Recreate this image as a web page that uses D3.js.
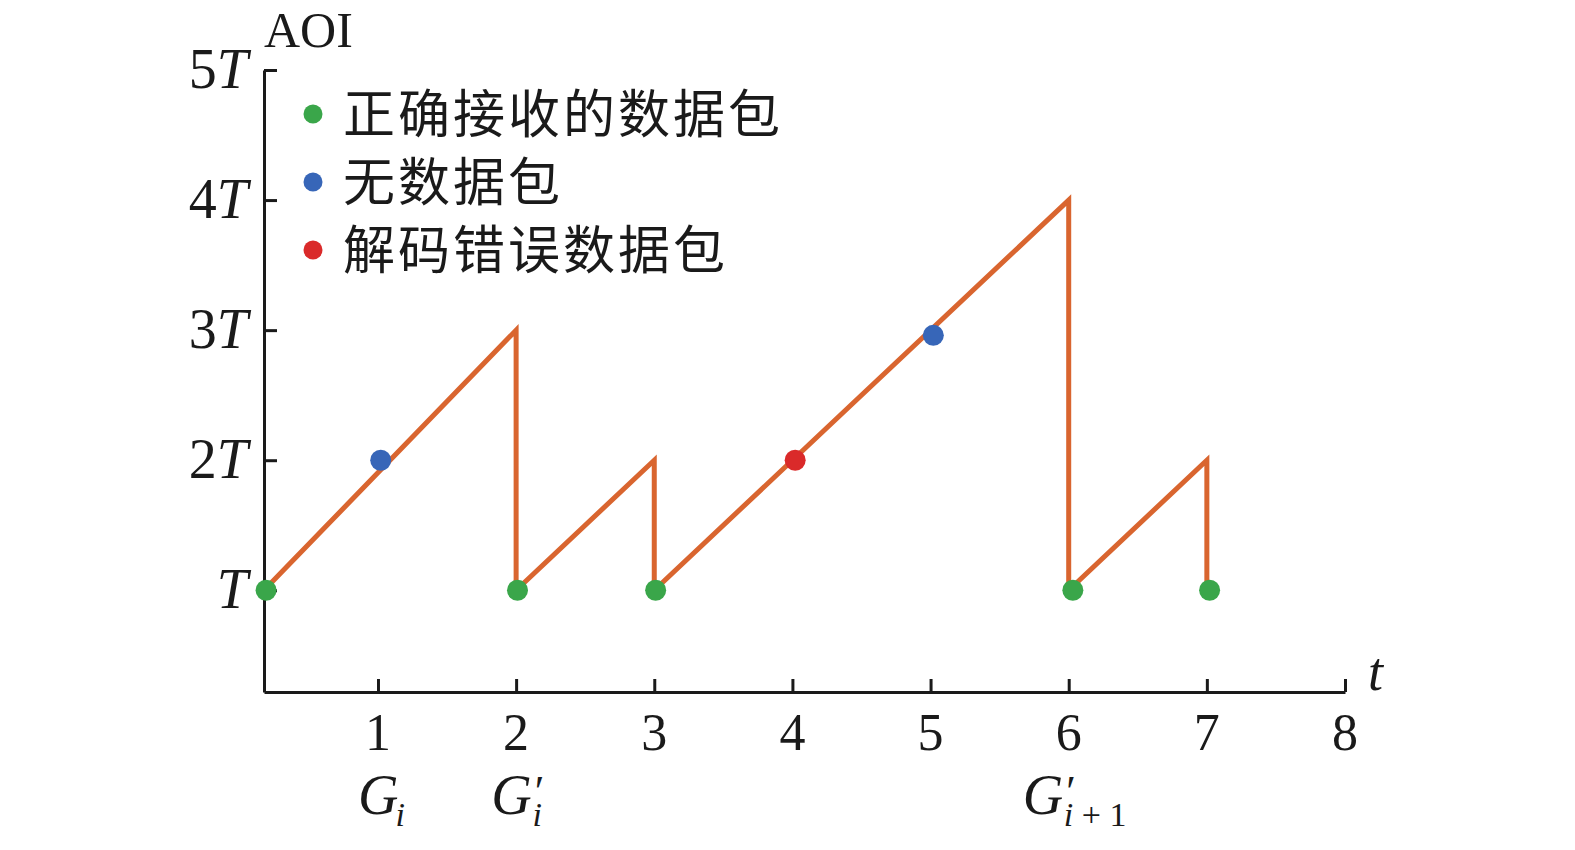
<!DOCTYPE html>
<html>
<head>
<meta charset="utf-8">
<script src="https://cdn.jsdelivr.net/npm/d3@7"></script>
<style>
  body { margin: 0; background: #fff; }
  text { font-family: "Liberation Serif", "DejaVu Serif", serif; fill: #1a1a1a; }
  .cjk { font-family: "Noto Sans CJK SC", sans-serif; }
</style>
</head>
<body>
<div id="chart"></div>
<script>
// AOI sawtooth: line corners (t, AOI in units of T)
var lineT   = [0.175, 2, 2, 3, 3, 6, 6, 7, 7];
var lineAOI = [1,     3, 1, 2, 1, 4, 1, 2, 1];

// packet markers
var markT    = [0.19, 1.02, 2.01, 3.01, 4.02, 5.02, 6.03, 7.02];
var markAOI  = [1,    2,    1,    1,    2,    2.96, 1,    1];
var markType = [0,    1,    0,    0,    2,    1,    0,    0];

var legendLabels = ["正确接收的数据包", "无数据包", "解码错误数据包"];
var typeColors   = ["#3aa64a", "#3766b8", "#da2a2a"];

var xTicks = [1, 2, 3, 4, 5, 6, 7, 8];
var yTicks = [1, 2, 3, 4, 5];
var yTickLabels = ["", "2", "3", "4", "5"];   // coefficient before T
var gLabels = [
  {t: 1, prime: false, sub: "i"},
  {t: 2, prime: true,  sub: "i"},
  {t: 6, prime: true,  sub: "i + 1"}
];

var width = 1575, height = 850;

var svg = d3.select("#chart").append("svg")
    .attr("width", width)
    .attr("height", height);

var x = d3.scaleLinear().domain([0.175, 8]).range([264, 1345]);
var y = d3.scaleLinear().domain([0.218, 5]).range([692, 70]);

// axes, ticks pointing inward
svg.append("g")
    .attr("transform", "translate(0," + y(0.218) + ")")
    .call(d3.axisBottom(x).tickValues(xTicks).tickSize(-13).tickSizeOuter(0).tickFormat(""));
svg.append("g")
    .attr("transform", "translate(" + x(0.175) + ",0)")
    .call(d3.axisLeft(y).tickValues(yTicks).tickSize(-13).tickSizeOuter(0).tickFormat(""));

svg.selectAll(".domain, .tick line")
    .attr("stroke", "#1a1a1a")
    .attr("stroke-width", 3);

// x tick numbers
svg.selectAll(".xlab")
  .data(xTicks)
  .enter().append("text")
    .attr("x", function(d) { return x(d); })
    .attr("y", y(0.218) + 58)
    .attr("text-anchor", "middle")
    .attr("font-size", 52)
    .text(function(d) { return d; });

// y tick labels "nT"
var ylab = svg.selectAll(".ylab")
  .data(yTicks)
  .enter().append("text")
    .attr("x", x(0.175) - 16)
    .attr("y", function(d) { return y(d) + 18; })
    .attr("text-anchor", "end")
    .attr("font-size", 56);
ylab.append("tspan").text(function(d, i) { return yTickLabels[i]; });
ylab.append("tspan").attr("font-style", "italic").text("T");

// G labels under some ticks, one text each: G, prime, subscript
gLabels.forEach(function(g) {
  var gy = y(0.218) + 122;
  var txt = svg.append("text")
      .attr("y", gy)
      .attr("font-size", 56);
  txt.append("tspan").attr("font-style", "italic").text("G");
  if (g.prime) {
    txt.append("tspan").attr("dx", 3).attr("dy", -8).attr("font-size", 44).text("′");
  }
  var parts = g.sub.split(" ");
  txt.append("tspan")
      .attr("dx", g.prime ? -12 : -3)
      .attr("dy", g.prime ? 20 : 12)
      .attr("font-size", 34)
      .attr("font-style", "italic")
      .text(parts[0]);
  if (parts.length > 1) {
    txt.append("tspan").attr("font-size", 34).text(" " + parts.slice(1).join(" "));
  }
  var w = txt.node().getComputedTextLength();
  var left = g.prime && parts.length > 1 ? x(g.t) - 46 : x(g.t) - w / 2 + 5;
  txt.attr("x", left);
});

// axis titles
svg.append("text")
    .attr("x", 264)
    .attr("y", 47)
    .attr("font-size", 50)
    .text("AOI");
svg.append("text")
    .attr("x", 1368)
    .attr("y", 690)
    .attr("font-size", 54)
    .attr("font-style", "italic")
    .text("t");

// AOI line
var pts = lineT.map(function(t, i) { return [t, lineAOI[i]]; });
var line = d3.line()
    .x(function(d) { return x(d[0]); })
    .y(function(d) { return y(d[1]); });

svg.append("path")
    .datum(pts)
    .attr("d", line)
    .attr("fill", "none")
    .attr("stroke", "#d9652f")
    .attr("stroke-width", 5)
    .attr("stroke-linejoin", "miter");

// packet markers
svg.selectAll(".mark")
  .data(markT)
  .enter().append("circle")
    .attr("cx", function(d) { return x(d); })
    .attr("cy", function(d, i) { return y(markAOI[i]); })
    .attr("r", 10.5)
    .attr("fill", function(d, i) { return typeColors[markType[i]]; });

// legend
var legend = svg.selectAll(".legend")
  .data(legendLabels)
  .enter().append("g")
    .attr("transform", function(d, i) { return "translate(313," + (114 + i * 68) + ")"; });
legend.append("circle")
    .attr("r", 9.5)
    .attr("fill", function(d, i) { return typeColors[i]; });
legend.append("text")
    .attr("class", "cjk")
    .attr("x", 30)
    .attr("y", 19)
    .attr("font-size", 52)
    .attr("letter-spacing", 3)
    .text(function(d) { return d; });
</script>
</body>
</html>
